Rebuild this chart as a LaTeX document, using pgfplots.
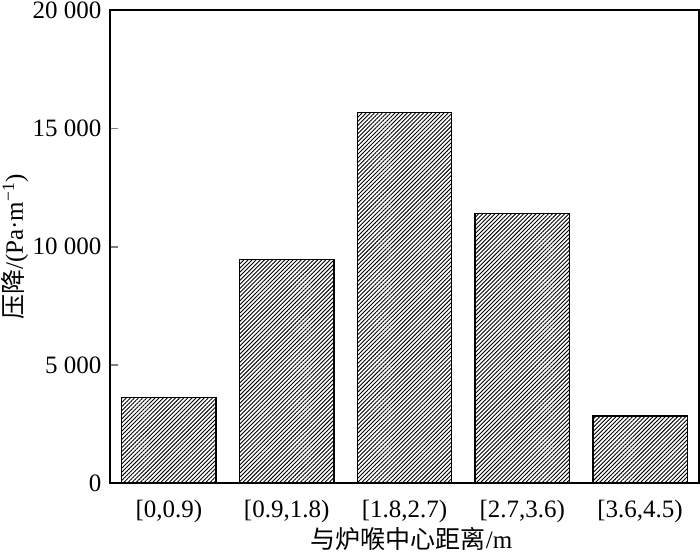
\documentclass[border=0pt]{standalone}
\usepackage{fontspec}
\setmainfont{Liberation Serif}
\newfontfamily\cjk{Noto Sans CJK SC}
\usepackage{pgfplots}
\pgfplotsset{compat=1.18}
\usetikzlibrary{patterns.meta}
\begin{document}
\begin{tikzpicture}[font=\fontsize{12.5pt}{15pt}\selectfont]
\begin{axis}[
  at={(0,0)}, anchor=south west,
  width=294.5pt, height=236.5pt, scale only axis,
  xmin=-0.5, xmax=4.5, ymin=0, ymax=20000,
  enlargelimits=false,
  axis line style={line width=0.9pt},
  xtick={0,1,2,3,4},
  xticklabels={{[0,0.9)},{[0.9,1.8)},{[1.8,2.7)},{[2.7,3.6)},{[3.6,4.5)}},
  xtick style={draw=none},
  ytick={0,5000,10000,15000,20000},
  ytick pos=left, tick align=inside, major tick length=4pt,
  ytick style={line width=0.8pt},
  scaled y ticks=false,
  /pgf/number format/assume math mode=true,
  /pgf/number format/1000 sep={\ },
  yticklabel style={anchor=east, xshift=-0.8pt},
  xticklabel style={anchor=base, yshift=-13.3pt},
  every axis x label/.style={at={(rel axis cs:0.5,0)}, xshift=3.5pt, yshift=-27.8pt, anchor=center},
  every axis y label/.style={at={(rel axis cs:0,0.5)}, xshift=-47.5pt, rotate=90, anchor=center},
  xlabel={{\cjk 与炉喉中心距离}/m},
  ylabel={{\cjk 压降}/(Pa·m\textsuperscript{−1})},
  ybar, bar width=0.8,
]
\addplot[draw=black, line width=0.7pt,
  pattern={Lines[angle=45, distance=1.45pt, line width=0.45pt]}, pattern color=black]
  coordinates {(0,3617) (1,9456) (2,15675) (3,11410) (4,2841)};
\end{axis}
\pgfresetboundingbox
\path (-55pt,-34.85pt) rectangle (295pt,241.65pt);
\end{tikzpicture}
\end{document}
